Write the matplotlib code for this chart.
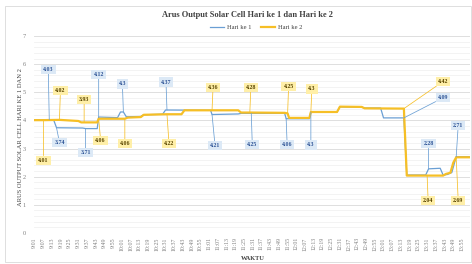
import matplotlib
matplotlib.use("Agg")
import matplotlib.pyplot as plt
from matplotlib.patches import Rectangle
import numpy as np

# ---------------- data ----------------
series_names = ["Hari ke 1", "Hari ke 2"]

day1_time = ["9:01", "9:11", "9:14", "9:16", "9:34", "9:36", "9:44", "9:45", "9:58", "10:00",
             "10:02", "10:04", "10:14", "10:16", "10:29", "10:31", "10:32", "11:02", "11:03",
             "11:21", "11:23", "11:30", "11:53", "11:54", "12:10", "12:11", "12:29", "12:31",
             "12:46", "12:48", "12:59", "13:01", "13:15", "13:17", "13:30", "13:32", "13:40",
             "13:42", "13:45", "13:48", "13:51", "14:00"]
day1_value = [4.02, 4.03, 4.02, 3.74, 3.73, 3.71, 3.71, 4.12, 4.10, 4.30,
              4.30, 4.13, 4.14, 4.20, 4.22, 4.37, 4.37, 4.36, 4.21,
              4.23, 4.25, 4.25, 4.25, 4.06, 4.06, 4.30, 4.30, 4.48,
              4.47, 4.44, 4.44, 4.09, 4.09, 2.06, 2.06, 2.28, 2.30,
              2.06, 2.08, 2.15, 2.71, 2.71]

day2_time = ["9:01", "9:07", "9:18", "9:31", "9:33", "9:35", "9:44", "9:45", "10:03", "10:05",
             "10:14", "10:16", "10:32", "10:42", "10:44", "11:03", "11:21", "11:23", "11:29",
             "11:53", "11:55", "11:56", "12:10", "12:11", "12:29", "12:31", "12:46", "12:48",
             "13:15", "13:17", "13:31", "13:42", "13:44", "13:47", "13:49", "13:51", "14:00"]
day2_value = [4.01, 4.01, 4.02, 3.98, 3.93, 3.93, 3.93, 4.06, 4.06, 4.10,
              4.12, 4.20, 4.22, 4.22, 4.36, 4.36, 4.36, 4.28, 4.28,
              4.27, 4.25, 4.09, 4.09, 4.30, 4.30, 4.49, 4.48, 4.43,
              4.42, 2.04, 2.04, 2.04, 2.10, 2.14, 2.50, 2.69, 2.69]

# points that carry a data label (times must be vertices above)
day1_label_time = ["9:11", "9:16", "9:36", "9:45", "10:02", "10:32", "11:03", "11:30",
                   "11:54", "12:11", "13:15", "13:32", "13:51"]
day2_label_time = ["9:07", "9:18", "9:35", "9:45", "10:03", "10:32", "11:03", "11:29",
                   "11:55", "12:11", "13:15", "13:31", "13:51"]

tick_labels = []
for h in range(9, 14):
    for mm in range(1, 60, 6):
        tick_labels.append(f"{h}:{mm:02d}")

# ---------------- style / layout ----------------
W, H, DPI = 472, 264, 100
BLUE = "#6A9FD4"
GOLD = "#F6BF26"
SERIF = "Liberation Serif"

# label offsets in pixels (dx, dy) from point to label centre
day1_offsets = [(-1, 50), (3, -15), (0, -24), (0, 43), (-1, 28), (-1, 28), (3, -31),
                (1, -31), (1, -26), (0, -33), (39, 20), (0, 25), (2, 31)]
day2_offsets = [(0, -40), (1, 29), (0, 23), (2, -22), (0, -25), (2, -29), (1, 23),
                (1, 25), (1, 27), (1, 23), (39, 27), (1, -25), (2, -43)]


def to_min(t):
    h, m = t.split(":")
    return (int(h) - 9) * 60 + int(m) - 1


fig = plt.figure(figsize=(W / DPI, H / DPI), dpi=DPI)
fig.patch.set_facecolor("white")

# chart-area border
fig.patches.append(Rectangle((5 / W, 1 - 262 / H), 466 / W, 256 / H,
                             transform=fig.transFigure, fill=False,
                             ec="#D9D9D9", lw=0.6))

ax = fig.add_axes([34 / W, 1 - 233 / H, 436 / W, 197 / H])
ax.set_facecolor("white")
for s in ax.spines.values():
    s.set_visible(False)

ax.set_xlim(-0.5, 299.5)
ax.set_ylim(0, 7)
ax.set_yticks(range(0, 8))
ax.set_yticks(np.arange(0, 7.01, 0.2), minor=True)
ax.grid(axis="y", which="major", color="#D9D9D9", lw=0.6)
ax.grid(axis="y", which="minor", color="#EEEEEE", lw=0.5)
ax.set_axisbelow(True)
ax.tick_params(axis="y", which="both", length=0, labelsize=4.5, labelcolor="#7F7F7F", pad=6)
for lb in ax.get_yticklabels():
    lb.set_family(SERIF)

ticks = [to_min(t) for t in tick_labels]
ax.set_xticks(ticks)
ax.set_xticklabels(tick_labels, rotation=90, fontsize=4.2, color="#7F7F7F", family=SERIF)
ax.tick_params(axis="x", length=0, pad=3)

x1 = [to_min(t) for t in day1_time]
x2 = [to_min(t) for t in day2_time]
ax.plot(x1, day1_value, color=BLUE, lw=0.9, zorder=3, label=series_names[0])
ax.plot(x2, day2_value, color=GOLD, lw=1.6, zorder=4, label=series_names[1])


def add_labels(xs, ys, label_times, offsets, color, fc, tc):
    for t, (dx, dy) in zip(label_times, offsets):
        m = to_min(t)
        i = xs.index(m)
        v = ys[i]
        ax.annotate(f"{v:g}", xy=(m, v), xytext=(dx, dy), textcoords="offset pixels",
                    ha="center", va="center", fontsize=4.2, fontweight="bold",
                    family=SERIF, color=tc, zorder=6,
                    bbox=dict(boxstyle="square,pad=0.35", fc=fc, ec="none"),
                    arrowprops=dict(arrowstyle="-", color=color, lw=0.55,
                                    shrinkA=0, shrinkB=0))


add_labels(x1, day1_value, day1_label_time, day1_offsets, BLUE, "#DCE9F6", "#2F5597")
add_labels(x2, day2_value, day2_label_time, day2_offsets, GOLD, "#FFEFA8", "#5A4500")

fig.text(247 / W, 1 - 15 / H, "Arus Output Solar Cell Hari ke 1 dan Hari ke 2",
         ha="center", va="center", fontsize=6.0, fontweight="bold", family=SERIF,
         color="#404040")
leg = fig.legend(loc="center", bbox_to_anchor=(256 / W, 1 - 27 / H), ncol=2,
                 frameon=False, prop={"family": SERIF, "size": 4.7},
                 handlelength=2.2, handletextpad=0.4, columnspacing=1.5)
for t in leg.get_texts():
    t.set_color("#404040")

fig.text(21 / W, 1 - 137 / H, "ARUS OUTPUT SOLAR CELL HARI KE 1 DAN 2", rotation=90,
         ha="center", va="center", fontsize=4.7, family=SERIF, color="#404040")
fig.text(253 / W, 1 - 259 / H, "WAKTU", ha="center", va="center", fontsize=4.6,
         fontweight="bold", family=SERIF, color="#404040")

fig.savefig("out.png", dpi=DPI, facecolor="white")
